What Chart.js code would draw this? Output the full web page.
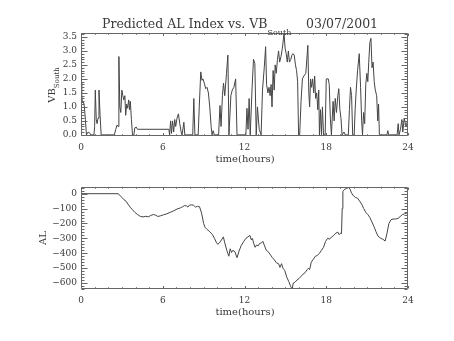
<!DOCTYPE html>
<html>
<head>
<meta charset="utf-8">
<script src="https://cdn.jsdelivr.net/npm/chart.js@4/dist/chart.umd.min.js"></script>
<style>
  body { margin: 0; background: #fff; }
  #wrap { position: relative; width: 454px; height: 341px; font-family: 'DejaVu Serif', serif; color: #3a3a3a; }
  #wrap canvas { position: absolute; left: 0; }
  .lbl { position: absolute; white-space: nowrap; line-height: 1; }
  .lbl sub { vertical-align: baseline; position: relative; }
</style>
</head>
<body>
<div id="wrap">
  <canvas id="vbChart" width="454" height="170" style="top:0"></canvas>
  <canvas id="alChart" width="454" height="171" style="top:170px"></canvas>

  <div class="lbl" style="left:102px; top:18px; font-size:12.5px">Predicted AL Index vs. VB<sub style="font-size:8px; top:7px">South</sub></div>
  <div class="lbl" style="left:306px; top:18px; font-size:12.5px">03/07/2001</div>

  <div class="lbl" style="left:52px; top:85px; font-size:10px; transform:translate(-50%,-50%) rotate(-90deg)">VB<sub style="font-size:7px; top:4px">South</sub></div>
  <div class="lbl" style="left:43px; top:238px; font-size:10px; transform:translate(-50%,-50%) rotate(-90deg)">AL</div>

  <div class="lbl" style="left:245px; top:159px; font-size:10px; transform:translate(-50%,-50%)">time(hours)</div>
  <div class="lbl" style="left:245px; top:312px; font-size:10px; transform:translate(-50%,-50%)">time(hours)</div>
</div>

<script>
// time axis (hours) shared by both panels
const hourTicks = [0, 6, 12, 18, 24];

// VB South, solar wind driver
const vbHours = [
  0.00, 0.05, 0.10, 0.18, 0.25, 0.32, 0.40, 0.52, 0.62, 0.72, 0.95, 1.00, 1.05, 1.12, 1.18, 1.25, 1.32, 1.40, 1.48,
  2.45, 2.55, 2.65, 2.72, 2.78, 2.85, 2.92, 3.00, 3.07, 3.14, 3.22, 3.28, 3.35, 3.42, 3.50, 3.56, 3.62, 3.70, 3.78,
  3.88, 3.95, 4.05, 4.15, 6.45, 6.50, 6.58, 6.64, 6.72, 6.80, 6.88, 6.95, 7.05, 7.15, 7.25, 7.35, 7.42, 7.55, 7.62,
  8.20, 8.28, 8.36, 8.60, 8.68, 8.79, 8.88, 8.95, 9.05, 9.15, 9.25, 9.35, 9.45, 9.55, 9.62, 9.70, 9.78,
  10.10, 10.20, 10.28, 10.38, 10.46, 10.55, 10.68, 10.78, 10.86, 11.00, 11.10, 11.22, 11.35, 11.45,
  12.10, 12.18, 12.26, 12.34, 12.42, 12.55, 12.66, 12.76, 12.86, 12.95, 13.08, 13.22, 13.32, 13.45, 13.55, 13.62,
  13.72, 13.80, 13.88, 13.95, 14.02, 14.10, 14.18, 14.25, 14.33, 14.42, 14.50, 14.58, 14.68, 14.78, 14.90, 14.98,
  15.06, 15.14, 15.22, 15.30, 15.40, 15.48, 15.56, 15.65, 15.74, 15.82, 15.90, 15.97, 16.05, 16.15, 16.25, 16.35,
  16.50, 16.65, 16.72, 16.78, 16.85, 16.92, 17.00, 17.08, 17.15, 17.22, 17.30, 17.38, 17.45, 17.50, 17.58, 17.65,
  17.72, 17.80, 17.92, 18.00, 18.15, 18.22, 18.30, 18.38, 18.50, 18.58, 18.66, 18.75, 18.85, 18.92, 19.00, 19.08,
  19.16, 19.30, 19.40, 19.62, 19.70, 19.78, 19.86, 19.94, 20.05, 20.12, 20.20, 20.30, 20.42, 20.52, 20.60, 20.66,
  20.74, 20.82, 20.90, 20.98, 21.05, 21.12, 21.20, 21.28, 21.36, 21.44, 21.52, 21.60, 21.70, 21.78, 21.84, 21.90,
  22.45, 22.52, 22.58, 23.20, 23.28, 23.34, 23.45, 23.55, 23.62, 23.72, 23.85, 24.00
];
const vbSouth = [
  1.90, 1.45, 1.15, 1.20, 1.00, 0.55, 0.00, 0.10, 0.08, 0.00, 0.00, 0.30, 1.60, 0.55, 0.40, 0.60, 1.60, 0.70, 0.00,
  0.00, 0.20, 0.35, 0.30, 2.80, 1.00, 0.80, 1.60, 1.40, 1.25, 1.40, 0.70, 1.10, 0.95, 1.25, 0.90, 1.20, 0.55, 0.00,
  0.00, 0.25, 0.28, 0.20, 0.20, 0.00, 0.50, 0.05, 0.50, 0.10, 0.55, 0.30, 0.60, 0.75, 0.40, 0.10, 0.00, 0.45, 0.00,
  0.00, 1.30, 0.00, 0.00, 1.00, 2.25, 1.95, 2.00, 1.85, 1.65, 1.70, 1.50, 1.00, 0.30, 0.00, 0.15, 0.00,
  0.00, 1.05, 0.30, 1.40, 1.85, 1.40, 2.20, 2.85, 0.00, 1.40, 1.60, 1.70, 2.00, 0.00,
  0.00, 0.95, 0.20, 1.30, 0.00, 1.60, 2.70, 2.55, 0.00, 1.00, 0.20, 0.00, 1.60, 2.40, 3.15, 1.80,
  1.50, 1.70, 1.40, 1.80, 1.00, 2.30, 1.60, 2.50, 2.20, 2.70, 3.00, 2.60, 2.80, 3.10, 3.62, 3.10,
  2.90, 2.60, 3.00, 2.60, 2.70, 2.85, 2.90, 2.85, 2.50, 2.30, 1.90, 0.00, 0.00, 1.20, 2.00, 2.10,
  2.20, 3.20, 1.50, 1.00, 2.00, 1.70, 2.00, 1.50, 2.10, 1.30, 1.50, 0.90, 1.60, 0.00, 0.90, 0.00,
  1.00, 0.00, 0.00, 2.00, 2.00, 1.80, 0.60, 0.00, 1.20, 0.50, 1.30, 0.80, 1.40, 1.65, 0.90, 0.60,
  0.00, 0.10, 0.00, 0.00, 0.90, 1.70, 1.40, 0.00, 0.00, 0.90, 1.60, 2.30, 2.90, 1.70, 0.50, 0.00,
  0.80, 0.40, 1.80, 2.20, 1.90, 2.60, 3.30, 3.45, 2.40, 2.60, 1.90, 1.60, 1.40, 0.50, 1.10, 0.00,
  0.00, 0.15, 0.00, 0.00, 0.40, 0.00, 0.20, 0.55, 0.10, 0.60, 0.30, 0.55
];
const vbTicks = [0, 0.5, 1, 1.5, 2, 2.5, 3, 3.5];

// predicted AL index (nT)
const alHours = [
  0.00, 2.72, 2.85, 3.00, 3.15, 3.30, 3.45, 3.60, 3.75, 3.95, 4.15, 4.35, 4.55, 4.75, 4.95, 5.15, 5.30, 5.45, 5.65,
  5.85, 6.05, 6.30, 6.55, 6.80, 7.05, 7.30, 7.45, 7.60, 7.75, 7.85, 7.95, 8.10, 8.25, 8.40, 8.55, 8.70, 8.85, 9.00,
  9.10, 9.25, 9.45, 9.65, 9.80, 9.95, 10.05, 10.20, 10.35, 10.45, 10.55, 10.70, 10.85, 10.95, 11.05, 11.15, 11.30,
  11.45, 11.60, 11.75, 11.95, 12.10, 12.25, 12.40, 12.50, 12.58, 12.68, 12.78, 12.88, 13.00, 13.10, 13.25, 13.35,
  13.45, 13.60, 13.75, 13.90, 14.05, 14.20, 14.35, 14.50, 14.60, 14.72, 14.82, 14.95, 15.10, 15.25, 15.40, 15.50,
  15.58, 15.70, 15.85, 16.00, 16.15, 16.30, 16.45, 16.60, 16.70, 16.78, 16.90, 17.05, 17.20, 17.35, 17.50, 17.65,
  17.80, 17.95, 18.10, 18.25, 18.40, 18.55, 18.70, 18.85, 18.95, 19.05, 19.12, 19.17, 19.22, 19.35, 19.50, 19.65,
  19.75, 19.85, 20.00, 20.15, 20.30, 20.45, 20.60, 20.75, 20.90, 21.05, 21.20, 21.35, 21.50, 21.65, 21.80, 22.00,
  22.15, 22.32, 22.45, 22.60, 22.75, 22.90, 23.10, 23.30, 23.45, 23.60, 23.75, 23.90, 24.00
];
const alIndex = [
  0, 0, -10, -25, -40, -50, -70, -90, -105, -125, -140, -152, -156, -152, -155, -145, -140, -143, -153,
  -148, -142, -135, -125, -115, -103, -95, -88, -80, -82, -90, -77, -75, -77, -90, -85, -88, -130, -200,
  -225, -240, -255, -275, -300, -330, -340, -325, -305, -290, -330, -380, -420, -370, -395, -380, -390,
  -430, -385, -350, -320, -300, -290, -280, -310, -300, -335, -360, -345, -350, -335, -330, -320,
  -345, -380, -390, -410, -430, -445, -465, -470, -495, -470, -500, -515, -560, -590, -625, -640,
  -600, -595, -580, -570, -555, -540, -530, -510, -500, -510, -460, -440, -420, -415, -400, -380,
  -360, -320, -300, -305, -290, -280, -265, -258, -275, -265, -268, -100, 15, 30, 35, 42,
  30, 5, -15, -25, -30, -50, -70, -100, -125, -140, -160, -190, -220, -255, -285, -300,
  -305, -318, -270, -200, -175, -170, -170, -165, -150, -140, -135, -132, -130
];
const alTicks = [-600, -500, -400, -300, -200, -100, 0];

const tickFont = { family: 'DejaVu Serif', size: 9 };
const ink = '#3a3a3a';

// box around the plot area with inward major/minor ticks on all four sides
const frame = {
  id: 'frame',
  afterDraw(chart, args, opts) {
    const { ctx, chartArea: a, scales: { x, y } } = chart;
    const L = Math.round(a.left) + 0.5, R = Math.round(a.right) - 0.5;
    const T = Math.round(a.top) + 0.5, B = Math.round(a.bottom) - 0.5;
    ctx.save();
    ctx.strokeStyle = '#666';
    ctx.lineWidth = 1;
    ctx.beginPath();
    ctx.rect(L, T, R - L, B - T);
    const near = (v, s) => Math.abs(v / s - Math.round(v / s)) < 1e-6;
    for (let v = x.min; v <= x.max + 1e-9; v += opts.xMinor) {
      const px = Math.round(x.getPixelForValue(v)) + 0.5;
      const len = near(v, opts.xMajor) ? opts.xLen : opts.xLen / 2;
      ctx.moveTo(px, B); ctx.lineTo(px, B - len);
      ctx.moveTo(px, T); ctx.lineTo(px, T + len);
    }
    const y0 = Math.ceil(y.min / opts.yMinor - 1e-6) * opts.yMinor;
    for (let v = y0; v <= y.max + 1e-9; v += opts.yMinor) {
      const py = Math.round(y.getPixelForValue(v)) + 0.5;
      const len = near(v, opts.yMajor) ? opts.yLen : opts.yLen / 2;
      ctx.moveTo(L, py); ctx.lineTo(L + len, py);
      ctx.moveTo(R, py); ctx.lineTo(R - len, py);
    }
    ctx.stroke();
    ctx.restore();
  }
};

function panel(id, hours, values, yRange, yTicks, yFmt, minor, padTop, xHeight) {
  return new Chart(document.getElementById(id), {
    type: 'line',
    data: {
      datasets: [{
        data: hours.map((h, i) => ({ x: h, y: values[i] })),
        borderColor: '#444',
        borderWidth: 1,
        pointRadius: 0,
        tension: 0
      }]
    },
    options: {
      responsive: false,
      animation: false,
      events: [],
      layout: { padding: { left: 0, right: 46, top: padTop, bottom: 0 } },
      plugins: {
        legend: { display: false },
        tooltip: { enabled: false },
        frame: { xMinor: 1, xMajor: 6, xLen: 2.5, yMinor: minor[0], yMajor: minor[1], yLen: 6 }
      },
      scales: {
        x: {
          type: 'linear', min: 0, max: 24,
          grid: { display: false, drawTicks: false },
          border: { display: false },
          afterBuildTicks: s => { s.ticks = hourTicks.map(v => ({ value: v })); },
          afterFit: s => { s.height = xHeight; },
          ticks: { font: tickFont, color: ink, padding: 6, maxRotation: 0, autoSkip: false, callback: v => String(v) }
        },
        y: {
          type: 'linear', min: yRange[0], max: yRange[1],
          grid: { display: false, drawTicks: false },
          border: { display: false },
          afterBuildTicks: s => { s.ticks = yTicks.map(v => ({ value: v })); },
          afterFit: s => { s.width = 81; },
          ticks: { font: tickFont, color: ink, padding: 4, autoSkip: false, callback: yFmt }
        }
      }
    },
    plugins: [frame]
  });
}

panel('vbChart', vbHours, vbSouth, [-0.04, 3.64], vbTicks, v => v.toFixed(1), [0.1, 0.5], 33, 34);
panel('alChart', alHours, alIndex, [-640, 45], alTicks,
  v => (v < 0 ? '\u2212' + Math.abs(v) : String(v)), [20, 100], 17, 52);
</script>
</body>
</html>
